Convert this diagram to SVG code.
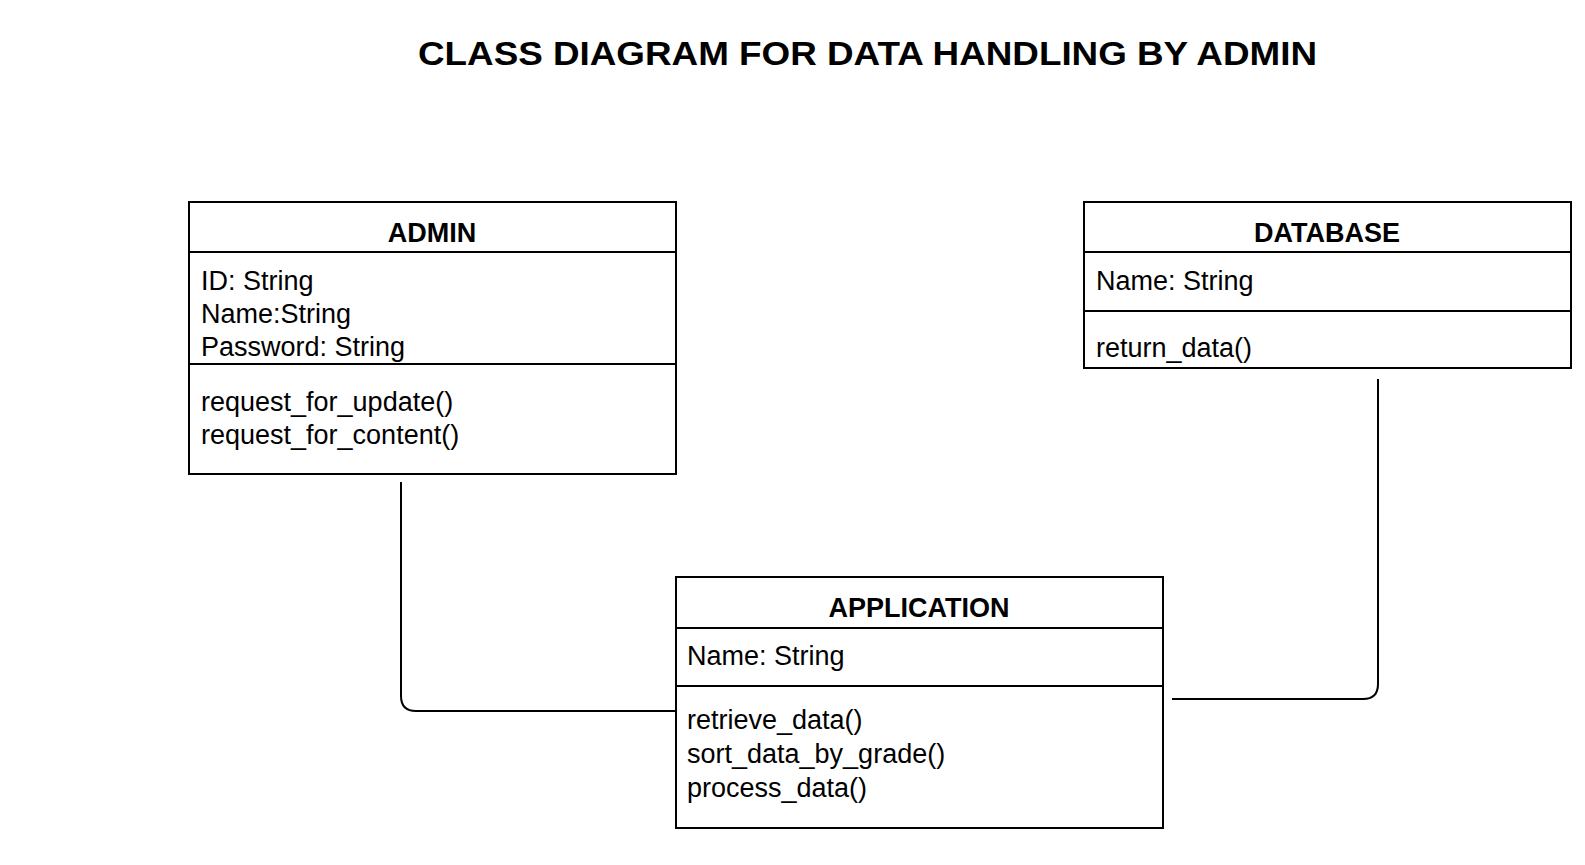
<svg xmlns="http://www.w3.org/2000/svg" width="1585" height="865" viewBox="0 0 1585 865">
<style>
.box{fill:#fff;stroke:#000;stroke-width:2}
.div{stroke:#000;stroke-width:2}
.hd{font-family:"Liberation Sans",Arial,sans-serif;font-weight:bold;font-size:27px;fill:#000;text-anchor:middle}
.tx{font-family:"Liberation Sans",Arial,sans-serif;font-size:27px;fill:#000}
.title{font-family:"Liberation Sans",Arial,sans-serif;font-weight:bold;font-size:34px;fill:#000}
.conn{fill:none;stroke:#000;stroke-width:2}
</style>
<rect width="1585" height="865" fill="#fff"/>
<text class="title" x="418" y="65" textLength="899" lengthAdjust="spacingAndGlyphs">CLASS DIAGRAM FOR DATA HANDLING BY ADMIN</text>
<g id="connectors">
<path class="conn" d="M401 482 V696 Q401 711 416 711 H675"/>
<path class="conn" d="M1172 699 H1363 Q1378 699 1378 684 V379"/>
</g>
<g id="admin">
<rect class="box" x="189" y="202" width="487" height="272"/>
<line class="div" x1="189" y1="252" x2="676" y2="252"/>
<line class="div" x1="189" y1="364" x2="676" y2="364"/>
<text class="hd" x="432" y="242">ADMIN</text>
<text class="tx" x="201" y="290">ID: String</text>
<text class="tx" x="201" y="323">Name:String</text>
<text class="tx" x="201" y="356">Password: String</text>
<text class="tx" x="201" y="411">request_for_update()</text>
<text class="tx" x="201" y="444">request_for_content()</text>
</g>
<g id="database">
<rect class="box" x="1084" y="202" width="487" height="166"/>
<line class="div" x1="1084" y1="252" x2="1571" y2="252"/>
<line class="div" x1="1084" y1="311" x2="1571" y2="311"/>
<text class="hd" x="1327" y="242">DATABASE</text>
<text class="tx" x="1096" y="290">Name: String</text>
<text class="tx" x="1096" y="357">return_data()</text>
</g>
<g id="application">
<rect class="box" x="676" y="577" width="487" height="251"/>
<line class="div" x1="676" y1="628" x2="1163" y2="628"/>
<line class="div" x1="676" y1="686" x2="1163" y2="686"/>
<text class="hd" x="919" y="617">APPLICATION</text>
<text class="tx" x="687" y="665">Name: String</text>
<text class="tx" x="687" y="729">retrieve_data()</text>
<text class="tx" x="687" y="763">sort_data_by_grade()</text>
<text class="tx" x="687" y="797">process_data()</text>
</g>
</svg>
